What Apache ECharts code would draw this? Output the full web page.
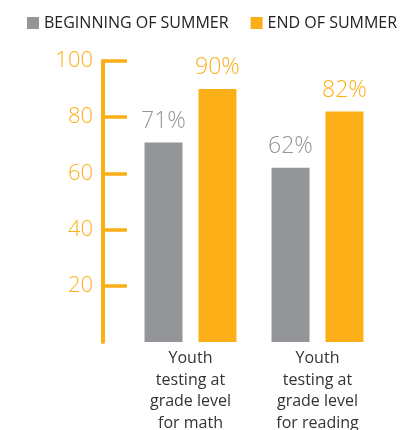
<!DOCTYPE html>
<html>
<head>
<meta charset="utf-8">
<script src="https://cdn.jsdelivr.net/npm/echarts@6/dist/echarts.min.js"></script>
<style>
  html, body { margin: 0; padding: 0; background: #fff; }
  #chart { width: 420px; height: 430px; }
</style>
</head>
<body>
<div id="chart"></div>
<script>
// chart data
var categories = [
  "Youth\ntesting at\ngrade level\nfor math",
  "Youth\ntesting at\ngrade level\nfor reading"
];
var beginningValues = [71, 62];
var endValues = [90, 82];
var yTicks = [20, 40, 60, 80, 100];

var GRAY = "#939598";
var ORANGE = "#FCAF17";

var myChart = echarts.init(document.getElementById("chart"));
myChart.setOption({
  animation: false,
  textStyle: { fontFamily: "Open Sans" },
  legend: {
    left: 22,
    top: 10,
    itemWidth: 12,
    itemHeight: 12,
    itemGap: 22,
    icon: "rect",
    textStyle: { fontSize: 16, color: "#222", fontFamily: "Open Sans" },
    data: ["BEGINNING OF SUMMER", "END OF SUMMER"]
  },
  grid: {
    left: 127,
    right: 39,
    top: 61,
    bottom: 88,
    outerBoundsMode: "none"
  },
  xAxis: {
    type: "category",
    data: categories,
    axisLine: { show: false },
    axisTick: { show: false },
    axisLabel: {
      margin: 6,
      fontSize: 16,
      lineHeight: 21.5,
      color: "#333",
      fontFamily: "Open Sans"
    }
  },
  yAxis: {
    type: "value",
    min: 0,
    max: 100,
    offset: 24,
    splitLine: { show: false },
    axisLine: { show: true, lineStyle: { color: ORANGE, width: 4 } },
    axisTick: {
      show: true,
      inside: true,
      length: 24,
      customValues: yTicks,
      lineStyle: { color: ORANGE, width: 3.5 }
    },
    axisLabel: {
      margin: 10,
      fontSize: 22,
      color: ORANGE,
      fontWeight: 300,
      fontFamily: "Open Sans",
      customValues: yTicks
    }
  },
  series: [
    {
      name: "BEGINNING OF SUMMER",
      type: "bar",
      data: beginningValues,
      barWidth: 38,
      barGap: "42%",
      itemStyle: { color: GRAY },
      label: {
        show: true,
        position: "top",
        distance: 10,
        formatter: "{c}%",
        fontSize: 23,
        fontWeight: 300,
        color: GRAY,
        fontFamily: "Open Sans"
      }
    },
    {
      name: "END OF SUMMER",
      type: "bar",
      data: endValues,
      barWidth: 38,
      barGap: "42%",
      itemStyle: { color: ORANGE },
      label: {
        show: true,
        position: "top",
        distance: 10,
        formatter: "{c}%",
        fontSize: 23,
        fontWeight: 300,
        color: ORANGE,
        fontFamily: "Open Sans"
      }
    }
  ]
});
</script>
</body>
</html>
